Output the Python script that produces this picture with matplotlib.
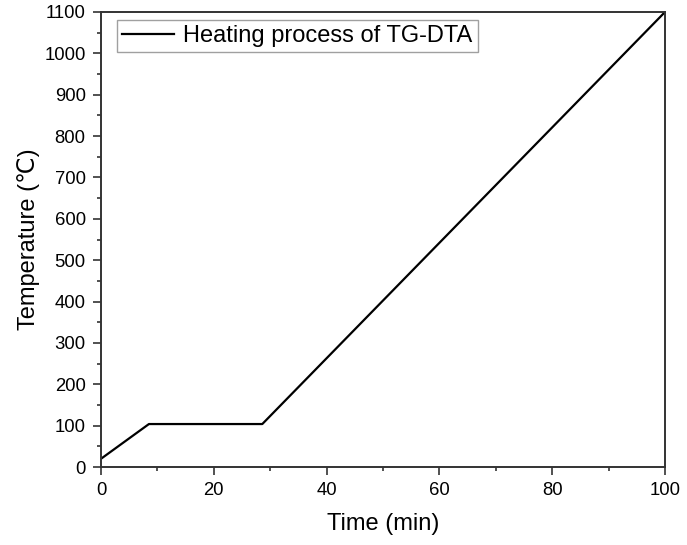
import matplotlib
matplotlib.use("Agg")
import matplotlib.pyplot as plt
from matplotlib.ticker import MultipleLocator

time_min = [0, 8.5, 28.6, 100]
temp_c = [20, 104, 104, 1100]
series_label = "Heating process of TG-DTA"
x_label = "Time (min)"
y_label = "Temperature (\u2103)"

plt.rcParams['font.family'] = ['Liberation Sans', 'DejaVu Sans']

fig = plt.figure(figsize=(6.87, 5.45), dpi=100)
ax = fig.add_axes([0.147, 0.143, 0.821, 0.835])
ax.plot(time_min, temp_c, color='black', lw=1.6, label=series_label)
ax.set_xlim(0, 100)
ax.set_ylim(0, 1100)
ax.xaxis.set_major_locator(MultipleLocator(20))
ax.xaxis.set_minor_locator(MultipleLocator(10))
ax.yaxis.set_major_locator(MultipleLocator(100))
ax.yaxis.set_minor_locator(MultipleLocator(50))
ax.tick_params(which='both', direction='out', top=False, right=False, labelsize=13.3, width=1.2, color='#333333')
ax.tick_params(which='major', length=6)
ax.tick_params(which='minor', length=3)
ax.tick_params(axis='x', which='major', pad=5)
ax.tick_params(axis='y', which='major', pad=5)
for s in ax.spines.values():
    s.set_linewidth(1.4)
    s.set_color('#333333')
ax.set_xlabel(x_label, fontsize=17, labelpad=10)
ax.set_ylabel(y_label, fontsize=17, labelpad=3)
leg = ax.legend(loc='upper left', bbox_to_anchor=(0.028, 0.983), fontsize=17, fancybox=False,
                frameon=True, edgecolor='#888888', handlelength=2.2, handletextpad=0.4,
                borderpad=0.22, borderaxespad=0)
leg.get_frame().set_linewidth(1.0)
fig.savefig('out.png', dpi=100)
